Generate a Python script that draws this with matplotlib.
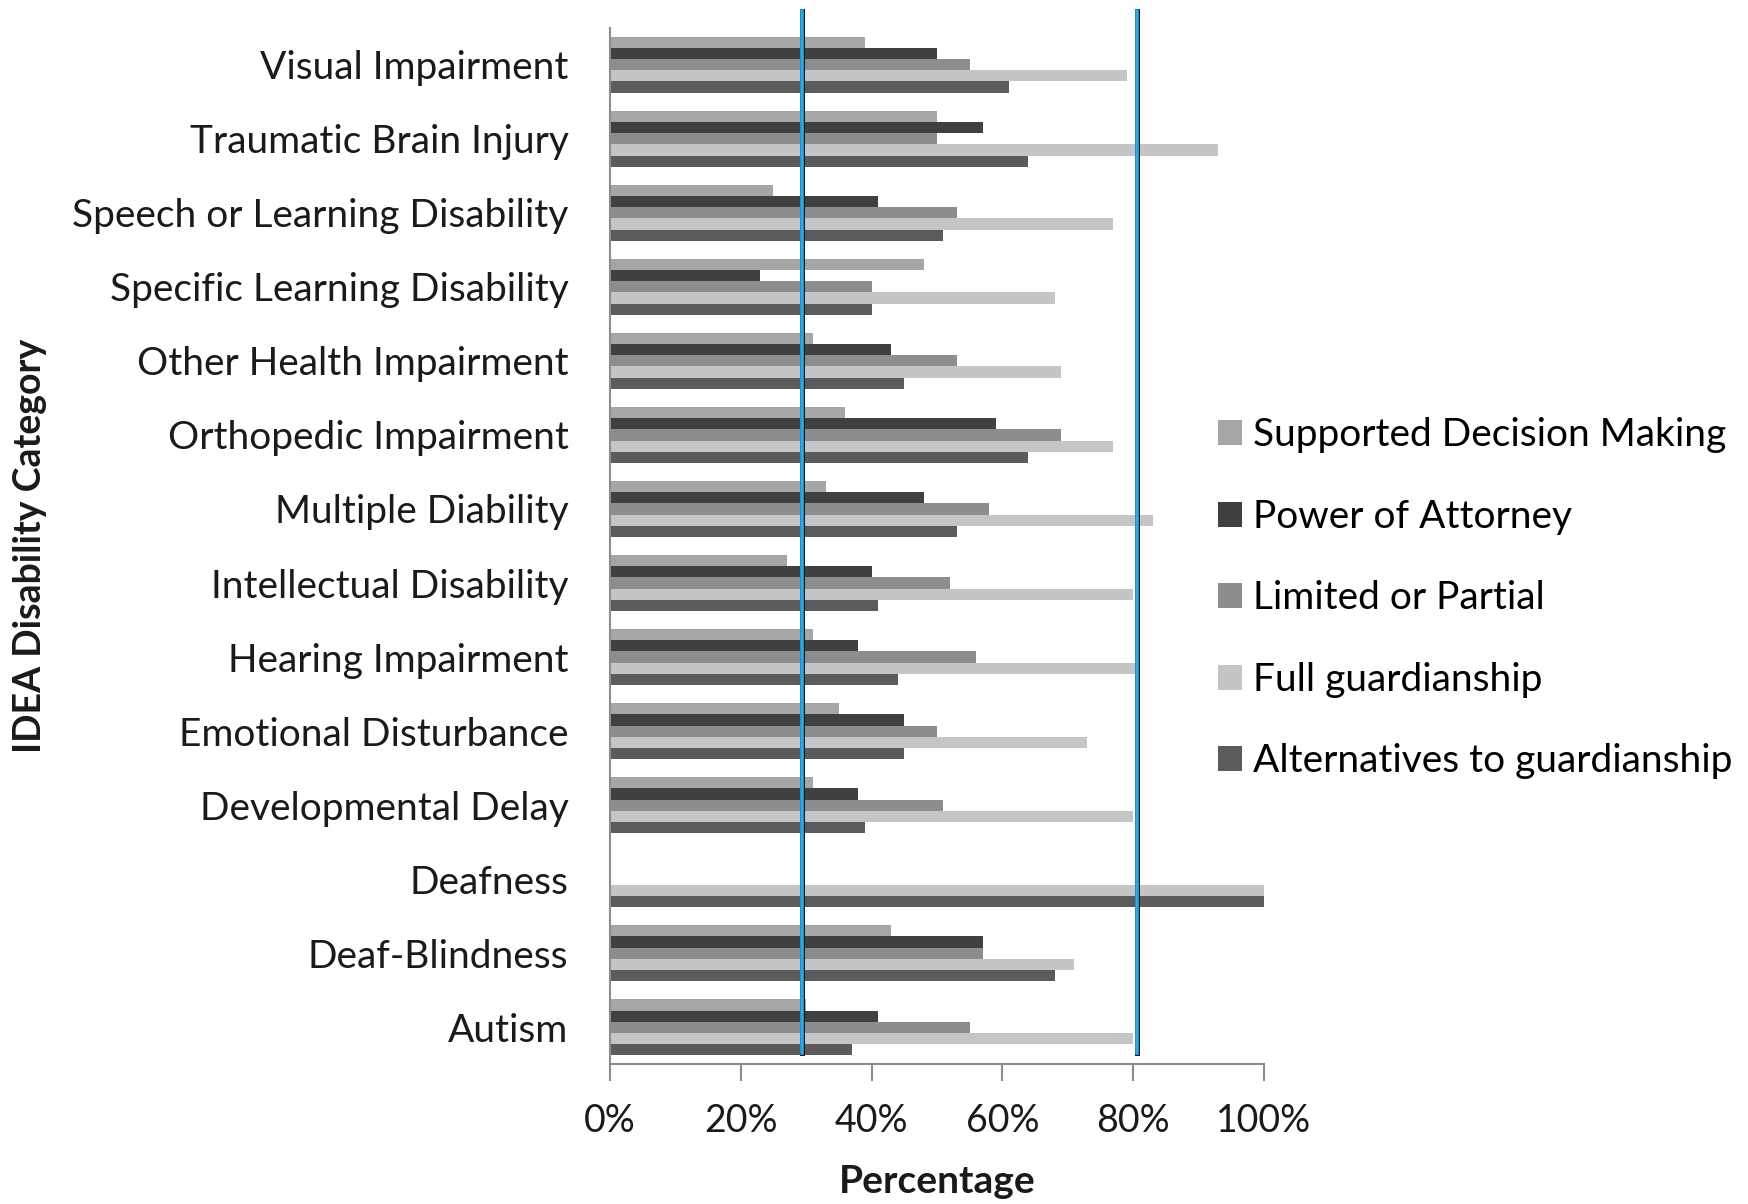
import matplotlib
matplotlib.use("Agg")
import matplotlib.pyplot as plt
import numpy as np

plt.rcParams['font.family'] = ['Lato', 'DejaVu Sans']

# categories bottom -> top as drawn
categories = ["Autism", "Deaf-Blindness", "Deafness", "Developmental Delay",
              "Emotional Disturbance", "Hearing Impairment", "Intellectual Disability",
              "Multiple Diability", "Orthopedic Impairment", "Other Health Impairment",
              "Specific Learning Disability", "Speech or Learning Disability",
              "Traumatic Brain Injury", "Visual Impairment"]

series_names = ["Supported Decision Making", "Power of Attorney", "Limited or Partial",
                "Full guardianship", "Alternatives to guardianship"]

# percentages, same order as categories
supported_decision = [30, 43, 0, 31, 35, 31, 27, 33, 36, 31, 48, 25, 50, 39]
power_of_attorney = [41, 57, 0, 38, 45, 38, 40, 48, 59, 43, 23, 41, 57, 50]
limited_partial = [55, 57, 0, 51, 50, 56, 52, 58, 69, 53, 40, 53, 50, 55]
full_guardianship = [80, 71, 100, 80, 73, 81, 80, 83, 77, 69, 68, 77, 93, 79]
alternatives = [37, 68, 100, 39, 45, 44, 41, 53, 64, 45, 40, 51, 64, 61]

marker_lines = [29.3, 80.6]

colors = ["#a6a6a8", "#404040", "#8d8d8f", "#c5c5c7", "#5b5b5d"]
all_series = [supported_decision, power_of_attorney, limited_partial,
              full_guardianship, alternatives]

fig = plt.figure(figsize=(17.48, 12.04), dpi=100)
ax = fig.add_axes([0.349, 0.116, 0.374, 0.861])

y = np.arange(len(categories))
w = 0.151
offsets = [2, 1, 0, -1, -2]
for vals, name, c, off in zip(all_series, series_names, colors, offsets):
    ax.barh(y + off * w, np.array(vals) / 100.0, height=w, color=c, label=name)

for x in marker_lines:
    ax.axvline(x / 100.0, ymin=0.011, ymax=1.016, color="#1a1a1a", lw=3.6, clip_on=False, zorder=5)
    ax.axvline(x / 100.0, ymin=0.011, ymax=1.016, color="#2aaae6", lw=2.6, clip_on=False, zorder=6)

ax.set_xlim(0, 1)
ax.set_ylim(-0.5, 13.5)
ax.set_yticks(y)
ax.set_yticklabels(categories, fontsize=28, color="#1a1a1a")
ax.set_xticks(np.linspace(0, 1, 6))
ax.set_xticklabels(["0%", "20%", "40%", "60%", "80%", "100%"], fontsize=27, color="#1a1a1a")
ax.tick_params(axis='y', length=0, pad=30)
ax.tick_params(axis='x', length=12, width=1.5, color="#8c8c8c", pad=16)
for s in ["top", "right"]:
    ax.spines[s].set_visible(False)
for s in ["left", "bottom"]:
    ax.spines[s].set_color("#8c8c8c")
    ax.spines[s].set_linewidth(1.5)

ax.set_xlabel("Percentage", fontsize=28, fontweight="bold", color="#1a1a1a", labelpad=18)
ax.set_ylabel("IDEA Disability Category", fontsize=27, fontweight="bold", color="#1a1a1a")
ax.yaxis.set_label_coords(-0.862, 0.5)

leg = ax.legend(loc="center left", bbox_to_anchor=(0.697, 0.503), bbox_transform=fig.transFigure,
                frameon=False, fontsize=28, borderpad=0, borderaxespad=0,
                handlelength=0.6, handleheight=0.6, handletextpad=0.3, labelspacing=1.17)

fig.savefig("out.png", dpi=100)
